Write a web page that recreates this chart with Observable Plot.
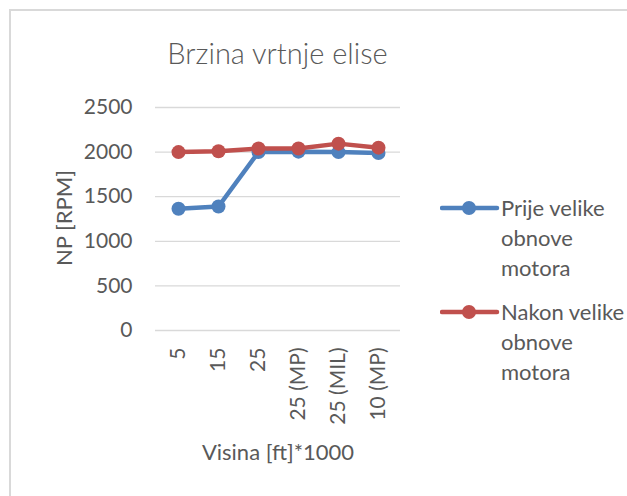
<!DOCTYPE html>
<html>
<head>
<meta charset="utf-8">
<script src="https://cdn.jsdelivr.net/npm/d3@7"></script>
<script src="https://cdn.jsdelivr.net/npm/@observablehq/plot@0.6"></script>
<style>
  html, body { margin: 0; padding: 0; background: #fff; overflow: hidden; }
  #wrap { position: relative; width: 627px; height: 496px; font-family: Lato, "Open Sans", sans-serif; color: #595959; }
  #border { position: absolute; left: 9px; top: 9px; width: 700px; height: 600px; border: 2px solid #d9d9d9; box-sizing: border-box; }
  #title { position: absolute; left: 0; width: 555px; top: 35px; text-align: center; font-size: 29px; font-weight: 300; color: #595959; white-space: nowrap; }
  #chart { position: absolute; left: 0; top: 0; }
  .axt { position: absolute; font-size: 22px; color: #595959; white-space: nowrap; line-height: 26px; }
  #ytitle { left: 64px; top: 218px; transform: translate(-50%, -50%) rotate(-90deg); }
  #xtitle { left: 278px; top: 452px; transform: translate(-50%, -50%); }
  .leg { position: absolute; left: 440px; font-size: 22px; line-height: 30px; color: #595959; }
  .leg svg { position: absolute; left: 0; top: 0; }
  .leg div { position: absolute; left: 61px; top: -15px; white-space: nowrap; }
</style>
</head>
<body>
<div id="wrap">
  <div id="border"></div>
  <div id="chart"></div>
  <div id="title">Brzina vrtnje elise</div>
  <div id="ytitle" class="axt">NP [RPM]</div>
  <div id="xtitle" class="axt">Visina [ft]*1000</div>
  <div id="legend"></div>
</div>
<script>
const categories = ["5", "15", "25", "25 (MP)", "25 (MIL)", "10 (MP)"];
const prije = [1365, 1390, 2000, 2005, 2000, 1990];
const nakon = [2000, 2010, 2040, 2040, 2095, 2050];
const seriesNames = ["Prije velike obnove motora", "Nakon velike obnove motora"];
const seriesLegendLines = [["Prije velike", "obnove", "motora"], ["Nakon velike", "obnove", "motora"]];
const yTicks = [0, 500, 1000, 1500, 2000, 2500];
const colors = ["#4F81BD", "#C0504D"];

const rows = [];
[prije, nakon].forEach((vals, s) => {
  vals.forEach((v, i) => rows.push({series: seriesNames[s], cat: categories[i], value: v}));
});

const chart = Plot.plot({
  width: 627,
  height: 496,
  marginLeft: 155,
  marginRight: 227,
  marginTop: 107,
  marginBottom: 166,
  style: {fontFamily: "Lato, 'Open Sans', sans-serif", fontSize: "21px", color: "#595959", background: "transparent"},
  x: {type: "point", domain: categories, padding: 0.5},
  y: {domain: [0, 2500]},
  color: {domain: seriesNames, range: colors},
  marks: [
    Plot.ruleY(yTicks, {stroke: "#d9d9d9", strokeWidth: 1.3}),
    Plot.axisY({ticks: yTicks, tickFormat: d => String(d), tickSize: 0, tickPadding: 23, fontSize: 21, label: null}),
    Plot.axisX({tickSize: 0, tickRotate: -90, tickPadding: 17, fontSize: 21, label: null}),
    Plot.line(rows, {x: "cat", y: "value", z: "series", stroke: "series", strokeWidth: 4.5, strokeLinejoin: "round", strokeLinecap: "round"}),
    Plot.dot(rows.filter(d => d.series === seriesNames[0]), {x: "cat", y: "value", r: 7, fill: colors[0]}),
    Plot.dot(rows.filter(d => d.series === seriesNames[1]), {x: "cat", y: "value", r: 7, fill: colors[1]})
  ]
});
document.getElementById("chart").appendChild(chart);

const legend = document.getElementById("legend");
const legTops = [208, 312];
seriesLegendLines.forEach((lines, s) => {
  const el = document.createElement("div");
  el.className = "leg";
  el.style.top = legTops[s] + "px";
  el.innerHTML = `<svg width="60" height="16" style="top:-8px" viewBox="0 -8 60 16">
      <line x1="2" x2="57" y1="0" y2="0" stroke="${colors[s]}" stroke-width="4.5" stroke-linecap="round"/>
      <circle cx="29" cy="0" r="7" fill="${colors[s]}"/></svg>
    <div>${lines.join("<br>")}</div>`;
  legend.appendChild(el);
});
</script>
</body>
</html>
